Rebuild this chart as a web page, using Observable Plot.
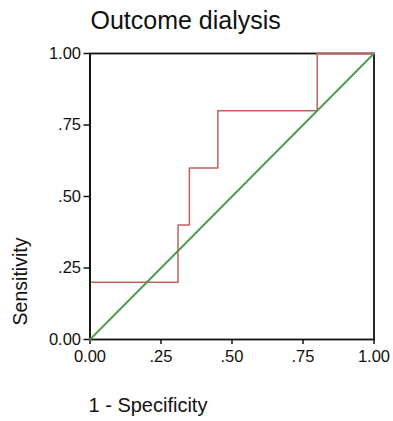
<!DOCTYPE html>
<html>
<head>
<meta charset="utf-8">
<script src="https://cdn.jsdelivr.net/npm/d3@7"></script>
<script src="https://cdn.jsdelivr.net/npm/@observablehq/plot@0.6"></script>
<style>
  html, body { margin: 0; padding: 0; background: #fff; }
  #chart { width: 393px; height: 421px; overflow: hidden; }
</style>
</head>
<body>
<div id="chart"></div>
<script>
// ROC curve coordinates (1 - specificity, sensitivity)
const rocFpr = [0, 0, 0.31, 0.31, 0.35, 0.35, 0.45, 0.45, 0.80, 0.80, 1.00];
const rocTpr = [0, 0.20, 0.20, 0.40, 0.40, 0.60, 0.60, 0.80, 0.80, 1.00, 1.00];
// Reference (chance) diagonal
const refX = [0, 1];
const refY = [0, 1];
// Axis ticks and labels
const tickValues = [0, 0.25, 0.5, 0.75, 1];
const tickLabels = ["0.00", ".25", ".50", ".75", "1.00"];
const titleText = "Outcome dialysis";
const xLabel = "1 - Specificity";
const yLabel = "Sensitivity";

const roc = rocFpr.map((x, i) => ({x, y: rocTpr[i]}));
const ref = refX.map((x, i) => ({x, y: refY[i]}));
const fmt = d => tickLabels[tickValues.indexOf(d)];

const plot = Plot.plot({
  width: 393,
  height: 421,
  marginTop: 53,
  marginBottom: 82,
  marginLeft: 89.5,
  marginRight: 19.5,
  style: {fontFamily: "'Liberation Sans', Arial, sans-serif", fontSize: "16px", color: "#111", background: "#fff"},
  x: {domain: [0, 1]},
  y: {domain: [0, 1]},
  marks: [
    Plot.axisX({ticks: tickValues, tickFormat: fmt, tickSize: 5, tickPadding: 6, label: null, stroke: "#111", strokeWidth: 1.5, fontSize: 16.5}),
    Plot.axisY({ticks: tickValues, tickFormat: fmt, tickSize: 6, tickPadding: 3, label: null, stroke: "#111", strokeWidth: 1.5, fontSize: 16.5}),
    Plot.frame({stroke: "#111", strokeWidth: 1.8}),
    Plot.line(roc, {x: "x", y: "y", stroke: "#c4605c", strokeWidth: 1.5}),
    Plot.ruleX([0], {stroke: "#111", strokeWidth: 1.8}),
    Plot.line(ref, {x: "x", y: "y", stroke: "#4a9a4a", strokeWidth: 1.8}),
    Plot.text([titleText], {text: d => d, frameAnchor: "top-left", textAnchor: "start", lineAnchor: "middle", dx: 0.5, dy: -32.7, fontSize: 25, fill: "#111"}),
    Plot.text([xLabel], {text: d => d, frameAnchor: "bottom-left", textAnchor: "start", lineAnchor: "middle", dx: -1.5, dy: 66, fontSize: 20, fill: "#111"}),
    Plot.text([yLabel], {text: d => d, frameAnchor: "left", textAnchor: "middle", lineAnchor: "middle", rotate: -90, dx: -69.5, dy: 85, fontSize: 19.5, fill: "#111"})
  ]
});
document.getElementById("chart").appendChild(plot);
</script>
</body>
</html>
